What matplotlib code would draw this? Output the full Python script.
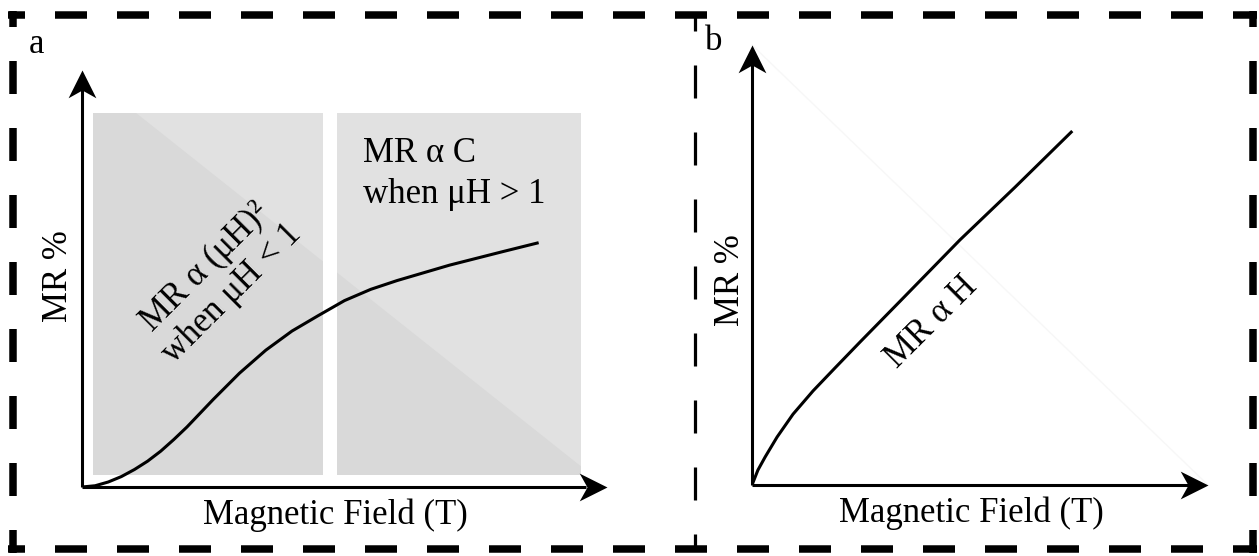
import matplotlib
matplotlib.use("Agg")
import matplotlib.pyplot as plt
from matplotlib.patches import Rectangle, Polygon
from matplotlib.path import Path
from matplotlib.lines import Line2D

plt.rcParams['font.family'] = ['Liberation Serif', 'DejaVu Serif']

# panel a: MR curve (arbitrary units, axes go 0..10)
field_a = [0, 0.25, 0.5, 0.75, 1.0, 1.25, 1.5, 1.75, 2.0, 2.5, 3.0, 3.5, 4.0, 4.5,
           5.0, 5.5, 6.0, 7.0, 8.0, 8.67]
mr_a = [0, 0.03, 0.12, 0.25, 0.42, 0.62, 0.86, 1.14, 1.44, 2.10, 2.73, 3.28, 3.74, 4.11,
        4.47, 4.74, 4.95, 5.32, 5.64, 5.85]
# shaded regimes (x ranges) in panel a
regions_a = [(0.21, 4.59), (4.86, 9.50)]
region_y = (0.29, 8.97)

# panel b: linear MR
field_b = [0, 0.13, 0.29, 0.55, 0.90, 1.34, 1.82, 2.37, 3.25, 4.56, 5.77, 7.00]
mr_b = [0, 0.34, 0.64, 1.09, 1.61, 2.14, 2.66, 3.25, 4.18, 5.57, 6.77, 8.02]

W, H = 1259, 556
fig = plt.figure(figsize=(W / 100, H / 100), dpi=100)

# arrow heads (notched)
head_up = Path([(0, 0), (0.5, -1), (0, -0.72), (-0.5, -1), (0, 0)],
               [Path.MOVETO, Path.LINETO, Path.LINETO, Path.LINETO, Path.CLOSEPOLY])
head_right = Path([(0, 0), (-1, 0.5), (-0.72, 0), (-1, -0.5), (0, 0)],
                  [Path.MOVETO, Path.LINETO, Path.LINETO, Path.LINETO, Path.CLOSEPOLY])


def draw_axes(ax):
    ax.set_xlim(0, 10)
    ax.set_ylim(0, 10)
    ax.axis('off')
    ax.plot([0, 0], [0, 9.6], color='black', lw=2.2, solid_capstyle='butt', clip_on=False)
    ax.plot([0, 9.6], [0, 0], color='black', lw=2.2, solid_capstyle='butt', clip_on=False)
    ax.plot([0], [10], marker=head_up, ms=40, color='black', mew=0, clip_on=False)
    ax.plot([10], [0], marker=head_right, ms=40, color='black', mew=0, clip_on=False)


# ---------- panel a ----------
axa = fig.add_axes([82 / W, (H - 487) / H, 525 / W, 417 / H])
axa.set_xlim(0, 10)
axa.set_ylim(0, 10)
tri = Polygon([(0, 0), (0, 10), (10, 0)], closed=True, transform=axa.transData)
for x0, x1 in regions_a:
    axa.add_patch(Rectangle((x0, region_y[0]), x1 - x0, region_y[1] - region_y[0],
                            facecolor='#e1e1e1', edgecolor='none', zorder=0))
    dark = Rectangle((x0, region_y[0]), x1 - x0, region_y[1] - region_y[0],
                     facecolor='#d9d9d9', edgecolor='none', zorder=0.5)
    axa.add_patch(dark)
    dark.set_clip_path(tri)
draw_axes(axa)
axa.plot(field_a, mr_a, color='black', lw=2.2, solid_joinstyle='round', zorder=3)

fs = 25
axa.text(5.35, 7.5, 'MR α C\nwhen μH > 1', fontsize=fs, ha='left', va='center',
         linespacing=1.3)
axa.text(2.6, 4.95, 'MR α (μH)²\nwhen μH < 1', fontsize=fs, ha='center', va='center',
         rotation=45, rotation_mode='anchor', linespacing=1.2, multialignment='center')
axa.text(-0.45, 5.05, 'MR %', fontsize=fs, rotation=90, ha='center', va='center')
axa.text(4.83, -0.68, 'Magnetic Field (T)', fontsize=fs, ha='center', va='center')

# ---------- panel b ----------
axb = fig.add_axes([752 / W, (H - 485) / H, 456 / W, 440 / H])
draw_axes(axb)
axb.plot([0, 10], [10, 0], color='#f7f7f7', lw=1, zorder=0, clip_on=False)
axb.plot(field_b, mr_b, color='black', lw=2.2, solid_joinstyle='round', zorder=3)
axb.text(3.95, 3.7, 'MR α H', fontsize=fs, ha='center', va='center',
         rotation=45, rotation_mode='anchor')
axb.text(-0.48, 4.65, 'MR %', fontsize=fs, rotation=90, ha='center', va='center')
axb.text(4.8, -0.65, 'Magnetic Field (T)', fontsize=fs, ha='center', va='center')

# panel letters
fig.text(37 / W, 1 - 45 / H, 'a', fontsize=fs, ha='center', va='center')
fig.text(714 / W, 1 - 42 / H, 'b', fontsize=fs, ha='center', va='center')


# dashed frame, one side at a time (pixel positions, y from top)
def frame_line(x0, y0, x1, y1, lw_px, on, off, offset):
    fig.add_artist(Line2D([x0 / W, x1 / W], [1 - y0 / H, 1 - y1 / H],
                          transform=fig.transFigure, color='black', lw=lw_px * 0.72,
                          linestyle=(offset / lw_px, (on / lw_px, off / lw_px)),
                          dash_capstyle='butt'))


t = 7.5
frame_line(12 - t / 2, 15, 1253 + t / 2, 15, t, 32, 30, 15)      # top
frame_line(12 - t / 2, 549, 1253 + t / 2, 549, t, 32, 30, 15)    # bottom
frame_line(13, 15 - t / 2, 13, 549 + t / 2, t, 33, 34, 17)       # left
frame_line(1253, 15 - t / 2, 1253, 549 + t / 2, t, 33, 34, 17)  # right
frame_line(695, 15, 695, 549, 3.2, 33, 34, 17)                   # divider

fig.savefig('out.png', dpi=100, facecolor='white')
